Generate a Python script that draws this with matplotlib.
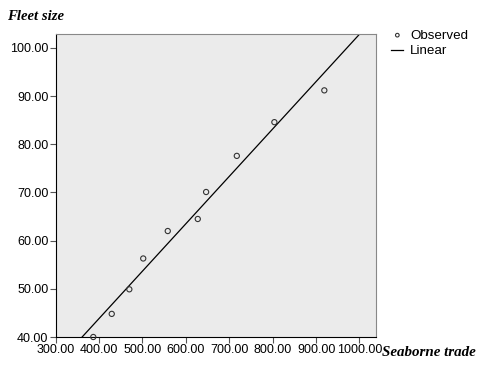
import numpy as np
import matplotlib.pyplot as plt

# seaborne trade vs fleet size (observed points)
trade = [387, 429.5, 470, 502, 558.5, 627.6, 646.8, 717.5, 804, 919]
fleet = [40.0, 44.8, 49.9, 56.3, 62.0, 64.5, 70.1, 77.6, 84.6, 91.2]

xticks = [300, 400, 500, 600, 700, 800, 900, 1000]
yticks = [40, 50, 60, 70, 80, 90, 100]

slope, intercept = np.polyfit(trade, fleet, 1)

fig = plt.figure(figsize=(4.81, 3.65), dpi=100)
ax = fig.add_axes([55.5 / 481, 1 - 337 / 365, (376 - 55.5) / 481, (337 - 34) / 365])
ax.set_facecolor("#ebebeb")

xs = np.array([300, 1040])
ax.plot(xs, slope * xs + intercept, color="black", lw=0.9, label="Linear")
ax.scatter(trade, fleet, s=14, facecolors="none", edgecolors="#333333",
           linewidths=0.8, label="Observed", zorder=3, clip_on=False)

ax.set_xlim(300, 1038)
ax.set_ylim(40, 102.9)
ax.set_xticks(xticks)
ax.set_yticks(yticks)
ax.set_xticklabels([f"{t:.2f}" for t in xticks], fontsize=9, family="Liberation Sans")
ax.set_yticklabels([f"{t:.2f}" for t in yticks], fontsize=9, family="Liberation Sans")
ax.tick_params(length=4, width=0.8, pad=1, color="#555555")

for s in ["top", "right"]:
    ax.spines[s].set_color("#888888")
for s in ["left", "bottom"]:
    ax.spines[s].set_color("black")

fig.text(7 / 481, 1 - 17 / 365, "Fleet size", fontsize=10.6, family="Liberation Serif",
         style="italic", weight="bold", va="center")
fig.text(382 / 481, 1 - 353 / 365, "Seaborne trade", fontsize=10.8, family="Liberation Serif",
         style="italic", weight="bold", va="center")

h, l = ax.get_legend_handles_labels()
leg = fig.legend(h[::-1], l[::-1], loc="upper left", bbox_to_anchor=(386 / 481, 1 - 24 / 365),
                 frameon=False, prop={"family": "Liberation Sans", "size": 9.6},
                 handlelength=0.9, handletextpad=0.5, labelspacing=0.25, borderaxespad=0,
                 markerscale=0.7)

fig.savefig("out.png", dpi=100)
